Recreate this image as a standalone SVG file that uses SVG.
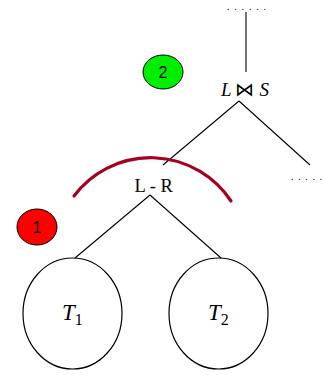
<svg xmlns="http://www.w3.org/2000/svg" width="323" height="375" viewBox="0 0 323 375">
<style>
.e{fill:none;stroke:#000;stroke-width:1.2}
.l{stroke:#000;stroke-width:1.1;fill:none}
.t{font-family:"Liberation Serif","Times New Roman",serif;fill:#000}
.d{font-family:"Liberation Serif",serif;font-size:10px;fill:#000}
.s{font-family:"Liberation Sans",Arial,sans-serif;font-size:16px;fill:#000;text-anchor:middle}
</style>
<rect width="323" height="375" fill="#fff"/>
<g id="connectors">
<line class="l" x1="246" y1="12" x2="246" y2="72"/>
<line class="l" x1="239" y1="101" x2="163" y2="165"/>
<line class="l" x1="239" y1="101" x2="310" y2="165"/>
<line class="l" x1="150" y1="195" x2="75" y2="258"/>
<line class="l" x1="150" y1="195" x2="221" y2="258"/>
</g>
<g id="top-dots"><text class="d" x="227" y="9.5" textLength="39" lengthAdjust="spacing">......</text></g>
<g id="right-dots"><text class="d" x="291" y="180" textLength="31" lengthAdjust="spacing">.....</text></g>
<g id="join"><text class="t" y="96" font-size="19"><tspan x="221" font-style="italic">L</tspan><tspan x="244.5" text-anchor="middle">⋈</tspan><tspan x="259.5" font-style="italic">S</tspan></text></g>
<g id="lr"><text class="t" x="134.5" y="191.5" font-size="18.5">L - R</text></g>
<g id="t1">
<ellipse class="e" cx="72.5" cy="313.5" rx="49.5" ry="55.5"/>
<text class="t" x="62" y="320" font-size="23" font-style="italic">T<tspan font-size="16" font-style="normal" dy="5">1</tspan></text>
</g>
<g id="t2">
<ellipse class="e" cx="218.5" cy="313.5" rx="49.5" ry="55.5"/>
<text class="t" x="208" y="320" font-size="23" font-style="italic">T<tspan font-size="16" font-style="normal" dy="5">2</tspan></text>
</g>
<g id="arc"><path d="M74 196 A96 96 0 0 1 231 201" fill="none" stroke="#a50021" stroke-width="3.2" stroke-linecap="round"/></g>
<g id="badge1">
<ellipse cx="37" cy="227" rx="20" ry="18" fill="#ff0000" stroke="#000" stroke-width="1"/>
<text class="s" x="37" y="233">1</text>
</g>
<g id="badge2">
<ellipse cx="163" cy="72" rx="20" ry="17" fill="#00ee00" stroke="#000" stroke-width="1"/>
<text class="s" x="163" y="78">2</text>
</g>
</svg>
